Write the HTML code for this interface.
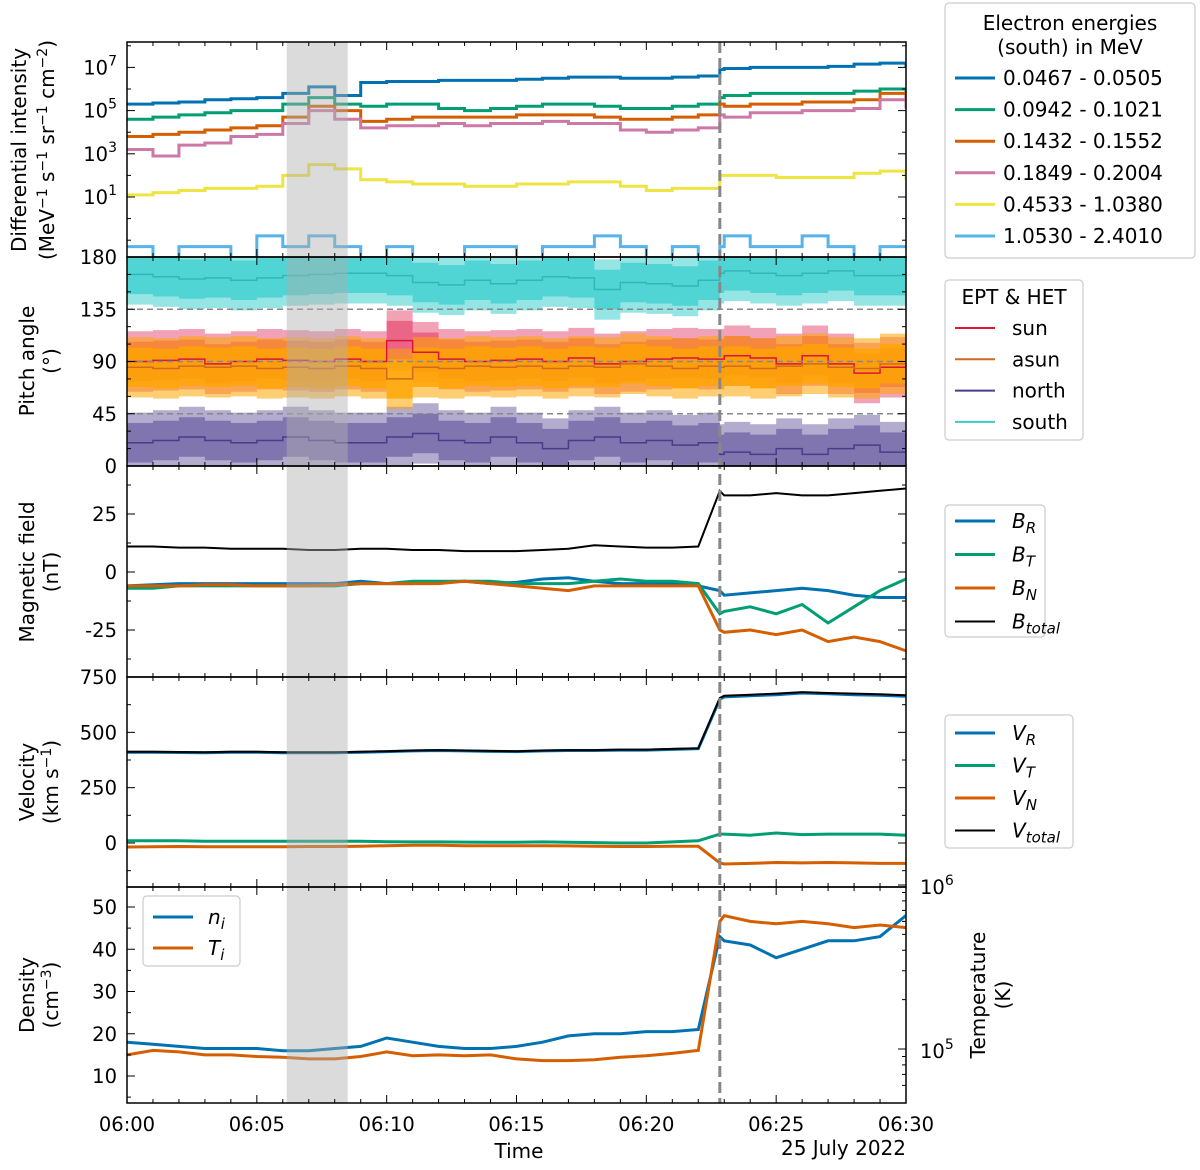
<!DOCTYPE html>
<html><head><meta charset="utf-8">
<style>
body{margin:0;background:#fff;}
svg{display:block;font-family:"DejaVu Sans","Liberation Sans",sans-serif;}
</style></head>
<body>
<svg id="c" width="1200" height="1170" viewBox="0 0 1200 1170" xmlns="http://www.w3.org/2000/svg"></svg>
<script>
// ---- data ----
const times = [0,1,2,3,4,5,6,7,8,9,10,11,12,13,14,15,16,17,18,19,20,21,22,22.83,23,24,25,26,27,28,29,30];
const energyLabels = ["0.0467 - 0.0505","0.0942 - 0.1021","0.1432 - 0.1552","0.1849 - 0.2004","0.4533 - 1.0380","1.0530 - 2.4010"];
const e1 = [5.3,5.35,5.4,5.5,5.55,5.6,5.8,6.1,5.7,6.3,6.35,6.35,6.4,6.4,6.4,6.45,6.5,6.55,6.55,6.5,6.5,6.55,6.6,6.9,6.95,7.0,7.0,7.0,7.05,7.15,7.2,7.0];
const e2 = [4.6,4.7,4.8,4.9,5.0,5.0,5.3,5.6,5.3,5.2,5.3,5.3,5.1,5.0,5.1,5.2,5.3,5.3,5.2,5.1,5.1,5.2,5.3,5.6,5.7,5.8,5.8,5.8,5.8,5.9,6.0,5.7];
const e3 = [3.8,3.9,4.0,4.1,4.2,4.3,4.7,5.2,5.0,4.5,4.6,4.7,4.7,4.7,4.7,4.8,4.8,4.8,4.7,4.6,4.6,4.7,4.8,5.3,5.2,5.3,5.3,5.4,5.4,5.5,5.8,5.5];
const e4 = [3.2,2.9,3.4,3.5,3.8,3.9,4.4,5.0,4.6,4.2,4.3,4.3,4.4,4.3,4.4,4.4,4.5,4.4,4.4,4.1,4.0,4.1,4.2,4.8,4.7,4.9,4.9,5.0,5.0,5.1,5.5,5.1];
const e5 = [1.1,1.2,1.3,1.4,1.4,1.5,2.0,2.5,2.3,1.8,1.7,1.6,1.6,1.5,1.5,1.6,1.6,1.7,1.7,1.5,1.3,1.4,1.4,2.0,2.0,2.0,1.9,1.9,1.9,2.1,2.2,1.8];
const e6 = [-1.3,-1.8,-1.3,-1.3,-1.8,-0.8,-1.3,-0.8,-1.3,-1.8,-1.3,-1.8,-1.8,-1.3,-1.3,-1.8,-1.3,-1.3,-0.8,-1.3,-1.8,-1.3,-1.8,-1.3,-0.8,-1.3,-1.3,-0.8,-1.3,-1.8,-1.3,-1.3];
const paSouth = [165,163,161,162,160,162,164,165,166,166,164,158,156,160,157,160,163,162,152,158,157,155,160,166,168,166,164,166,168,164,164,163];
const paSun   = [90,91,92,88,90,92,91,90,92,90,108,98,92,90,91,92,90,93,88,90,92,93,92,92,95,93,88,95,88,80,85,100];
const paAsun  = [85,84,86,85,86,84,85,84,86,84,75,85,84,86,85,86,84,86,85,88,86,84,86,85,86,84,86,88,85,84,88,85];
const paNorth = [20,22,25,22,20,22,25,22,20,20,25,28,22,20,25,20,15,22,25,20,22,18,20,10,12,10,15,10,15,18,12,30];
const bTot = [11,11,10.5,10.5,10,10,10,9.5,9.5,10,10,9.5,9.5,9,9,9,9.5,10,11.5,11,10.5,10.5,11,35,33,33,34,33,33,34,35,36];
const bR = [-6,-5.5,-5,-5,-5,-5,-5,-5,-5,-4,-5,-5,-4.5,-4,-5,-4.5,-3,-2.5,-4,-5,-5,-5,-6,-8,-10,-9,-8,-7,-8,-10,-11,-11];
const bT = [-7,-7,-6,-6,-6,-6,-6,-6,-6,-5,-5,-4,-4,-4,-4,-5,-5,-5,-4,-3,-4,-4,-5,-18,-17,-15,-18,-14,-22,-15,-8,-3];
const bN = [-6,-6,-6,-5.5,-5.5,-6,-6,-6,-5.5,-5,-5,-5,-5,-4,-5,-6,-7,-8,-6,-6,-6,-6,-6,-25,-26,-25,-27,-25,-30,-28,-30,-34];
const vTot = [412,412,411,410,412,412,410,410,410,412,415,418,420,418,416,415,418,420,420,422,422,425,428,655,665,670,675,682,678,675,672,668];
const vR = [410,410,409,408,410,410,408,408,408,410,413,416,418,416,414,413,416,418,418,420,420,423,426,650,660,665,670,678,674,670,668,663];
const vT = [10,10,10,8,8,8,8,8,8,8,6,5,5,4,3,3,5,3,2,0,0,5,10,40,40,35,45,38,40,40,40,35];
const vN = [-18,-17,-16,-17,-17,-17,-17,-16,-16,-15,-12,-10,-10,-12,-12,-12,-12,-13,-15,-16,-16,-15,-15,-90,-95,-92,-88,-90,-88,-90,-92,-92];
const nI = [18,17.5,17,16.5,16.5,16.5,16,16,16.5,17,19,18,17,16.5,16.5,17,18,19.5,20,20,20.5,20.5,21,43,42,41,38,40,42,42,43,48];
const tI = [92000,98000,96000,92000,92000,90000,89000,87000,87000,90000,96000,91000,92000,91000,92000,87000,85000,85000,86000,89000,91000,94000,98000,600000,650000,600000,580000,600000,580000,550000,570000,550000];
const xTickLabels = ["06:00","06:05","06:10","06:15","06:20","06:25","06:30"];
const xTickMinutes = [0,5,10,15,20,25,30];
const shadeStart = 6.15, shadeEnd = 8.5, shockTime = 22.83;

// ---- helpers ----
const NS="http://www.w3.org/2000/svg", S=document.getElementById('c');
function el(tag, attrs, parent){const e=document.createElementNS(NS,tag);for(const k in attrs)e.setAttribute(k,attrs[k]);(parent||S).appendChild(e);return e;}
const X0=127,X1=906;
const xs = t => X0 + t*(X1-X0)/30;
const P = [{t:42,b:257},{t:257,b:466},{t:466,b:677},{t:677,b:887},{t:887,b:1103}];
const y1 = v => 197 - (v-1)*21.6;
const y2 = v => 466 - v*(209/180);
const y3 = v => 572 - v*2.32;
const y4 = v => 843 - v*0.2213;
const y5 = v => 1076 - (v-10)*4.225;
const y5r = v => 1049 - (Math.log10(v)-5)*164;
function stepPath(vals, yf){let d='M'+xs(times[0])+','+yf(vals[0]);for(let i=1;i<times.length;i++){d+=' H'+xs(times[i])+' V'+yf(vals[i]);}return d;}
function linePath(vals, yf){return vals.map((v,i)=>(i?'L':'M')+xs(times[i]).toFixed(1)+','+yf(v).toFixed(1)).join(' ');}
function bandPath(vals, hw, yf){let up='',dn=[];for(let i=0;i<times.length;i++){const xa=xs(times[i]),xb=xs(i<times.length-1?times[i+1]:30);const hi=Math.min(180,vals[i]+hw),lo=Math.max(0,vals[i]-hw);up+=(i?'L':'M')+xa+','+yf(hi)+' L'+xb+','+yf(hi)+' ';dn.unshift('L'+xb+','+yf(lo)+' L'+xa+','+yf(lo));}return up+dn.join(' ')+' Z';}
function txt(x,y,s,attrs){const t=el('text',Object.assign({x:x,y:y,'font-size':19.5,fill:'#000'},attrs||{}));t.innerHTML=s;return t;}

const defs=el('defs',{});
P.forEach((p,i)=>{const cp=el('clipPath',{id:'cp'+i},defs);el('rect',{x:X0,y:p.t,width:X1-X0,height:p.b-p.t},cp);});

// ---- panel 1 ----
const g1=el('g',{'clip-path':'url(#cp0)'});


const eCols=['#0072B2','#009E73','#D55E00','#CC79A7','#F0E442','#56B4E9'];
[e1,e2,e3,e4,e5,e6].forEach((s,i)=>{const p=el('path',{d:stepPath(s,y1),fill:'none',stroke:eCols[i],'stroke-width':3},g1);

});

// ---- panel 2 ----
const g2=el('g',{'clip-path':'url(#cp1)'});


const paSets=[[paSouth,'#40cfcf','#30b8b8','south'],[paNorth,'#7468a8','#483D8B','north'],[paSun,'#e8567a','#DC143C','sun'],[paAsun,'#ffa500','#D2691E','asun']];
paSets.forEach(([v,fc,lc,nm])=>{
 const o=el('path',{d:bandPath(v,26,y2),fill:fc,opacity:0.55},g2);
 
 
 const inr=el('path',{d:bandPath(v,17,y2),fill:fc,opacity:0.8},g2);
 
 
});
paSets.forEach(([v,fc,lc,nm])=>{const l=el('path',{d:stepPath(v,y2),fill:'none',stroke:lc,'stroke-width':1.5},g2);
 
 });
[45,90,135].forEach(a=>el('line',{x1:X0,x2:X1,y1:y2(a),y2:y2(a),stroke:'#888','stroke-width':1.5,'stroke-dasharray':'6,4'},g2));

// ---- panel 3 ----
const g3=el('g',{'clip-path':'url(#cp2)'});


[[bTot,'#000',2,'b-total-line'],[bR,'#0072B2',3,'b-r-line'],[bT,'#009E73',3,'b-t-line'],[bN,'#D55E00',3,'b-n-line']].forEach(([v,c,w,n])=>{const l=el('path',{d:linePath(v,y3),fill:'none',stroke:c,'stroke-width':w},g3);
 
 });

// ---- panel 4 ----
const g4=el('g',{'clip-path':'url(#cp3)'});


[[vR,'#0072B2',3,'v-r-line'],[vT,'#009E73',3,'v-t-line'],[vN,'#D55E00',3,'v-n-line'],[vTot,'#000',2,'v-total-line']].forEach(([v,c,w,n])=>{const l=el('path',{d:linePath(v,y4),fill:'none',stroke:c,'stroke-width':w},g4);
 
 });

// ---- panel 5 ----
const g5=el('g',{'clip-path':'url(#cp4)'});


const ln=el('path',{d:linePath(nI,y5),fill:'none',stroke:'#0072B2','stroke-width':3},g5);


const lt=el('path',{d:linePath(tI,y5r),fill:'none',stroke:'#D55E00','stroke-width':3},g5);



const sh=el('rect',{x:xs(shadeStart),y:P[0].t,width:xs(shadeEnd)-xs(shadeStart),height:P[4].b-P[0].t,fill:'#b0b0b0',opacity:0.45});


const shock=el('line',{x1:xs(shockTime),x2:xs(shockTime),y1:P[0].t,y2:P[4].b,stroke:'#888','stroke-width':3,'stroke-dasharray':'11,5'});



P.forEach((p,i)=>{
 const r=el('rect',{x:X0,y:p.t,width:X1-X0,height:p.b-p.t,fill:'none',stroke:'#000','stroke-width':1.5});
 
 
 for(let m=0;m<=30;m++){const L=(m%5===0)?8:4;
  el('line',{x1:xs(m),x2:xs(m),y1:p.b,y2:p.b-L,stroke:'#000','stroke-width':1});
  el('line',{x1:xs(m),x2:xs(m),y1:p.t,y2:p.t+L,stroke:'#000','stroke-width':1});}
});
xTickMinutes.forEach((m,i)=>{const t=txt(xs(m),1131,xTickLabels[i],{'text-anchor':'middle'});
 
 });
const xt=txt(519,1158,'Time',{'text-anchor':'middle','font-size':20});


const dt=txt(906,1155,'25 July 2022',{'text-anchor':'end','font-size':20});



function ytick(y,label,L,side){
 const xa=side==='r'?X1:X0, dir=side==='r'?-1:1;
 el('line',{x1:xa,x2:xa+dir*L,y1:y,y2:y,stroke:'#000','stroke-width':1});
 if(label!==null){const t=txt(side==='r'?X1+12:X0-10,y+7,label,{'text-anchor':side==='r'?'start':'end'});
  
  }
}
[7,5,3,1].forEach(d=>{ytick(y1(d),'10<tspan dy="-9" font-size="14">'+d+'</tspan>',8,'l');ytick(y1(d),null,8,'r');});
[8,6,4,2,0,-1].forEach(d=>{ytick(y1(d),null,4,'l');ytick(y1(d),null,4,'r');});
[0,45,90,135,180].forEach(a=>{ytick(y2(a),String(a),8,'l');ytick(y2(a),null,8,'r');});
for(let a=15;a<180;a+=15){if(a%45){ytick(y2(a),null,4,'l');ytick(y2(a),null,4,'r');}}
[25,0,-25].forEach(v=>{ytick(y3(v),String(v),8,'l');ytick(y3(v),null,8,'r');});
[37.5,12.5,-12.5,-37.5].forEach(v=>{ytick(y3(v),null,4,'l');ytick(y3(v),null,4,'r');});
[750,500,250,0].forEach(v=>{ytick(y4(v),String(v),8,'l');ytick(y4(v),null,8,'r');});
[625,375,125,-125].forEach(v=>{ytick(y4(v),null,4,'l');ytick(y4(v),null,4,'r');});
[50,40,30,20,10].forEach(v=>ytick(y5(v),String(v),8,'l'));
[45,35,25,15,5].forEach(v=>ytick(y5(v),null,4,'l'));
ytick(y5r(1e6),null,8,'r');ytick(y5r(1e5),null,8,'r');
[6e4,7e4,8e4,9e4,2e5,3e5,4e5,5e5,6e5,7e5,8e5,9e5].forEach(v=>ytick(y5r(v),null,4,'r'));
[[1e6,6],[1e5,5]].forEach(([v,d])=>{const t=txt(X1+14,y5r(v)+9,'10<tspan dy="-9" font-size="14">'+d+'</tspan>',{});
 
 });

function ytitle(x,y,s,name){const t=txt(x,y,s,{'text-anchor':'middle','font-size':20,transform:'rotate(-90 '+x+' '+y+')'});
 
 }
ytitle(26,150,'Differential intensity','intensity-axis-title');
ytitle(54,150,'(MeV<tspan dy="-7" font-size="14">−1</tspan><tspan dy="7"> s</tspan><tspan dy="-7" font-size="14">−1</tspan><tspan dy="7"> sr</tspan><tspan dy="-7" font-size="14">−1</tspan><tspan dy="7"> cm</tspan><tspan dy="-7" font-size="14">−2</tspan><tspan dy="7">)</tspan>','intensity-axis-units');
ytitle(34,361,'Pitch angle','pitch-axis-title');
ytitle(58,361,'(°)','pitch-axis-units');
ytitle(34,572,'Magnetic field','b-axis-title');
ytitle(58,572,'(nT)','b-axis-units');
ytitle(34,782,'Velocity','v-axis-title');
ytitle(58,782,'(km s<tspan dy="-7" font-size="14">−1</tspan><tspan dy="7">)</tspan>','v-axis-units');
ytitle(34,995,'Density','density-axis-title');
ytitle(58,995,'(cm<tspan dy="-7" font-size="14">−3</tspan><tspan dy="7">)</tspan>','density-axis-units');
ytitle(985,995,'Temperature','temperature-axis-title');
ytitle(1010,995,'(K)','temperature-axis-units');

function legendBox(x,y,w,h,name){const r=el('rect',{x:x,y:y,width:w,height:h,rx:4,fill:'#fff',stroke:'#ccc','stroke-width':1.2});
 
 }
function legEntry(x,y,col,w,label,tx,name,italic){
 el('line',{x1:x,x2:x+40,y1:y,y2:y,stroke:col,'stroke-width':w});
 const t=txt(tx,y+7,label,italic?{'font-style':'italic','font-size':20}:{'font-size':20});
 
 }
legendBox(945,3,250,255,'energy-legend');
txt(1070,30,'Electron energies',{'text-anchor':'middle','font-size':20});
txt(1070,54,'(south) in MeV',{'text-anchor':'middle','font-size':20});
energyLabels.forEach((l,i)=>legEntry(955,78+i*31.6,eCols[i],3,l,1003,'energy-legend-entry',false));
legendBox(945,280,138,160,'pitch-legend');
txt(1014,304,'EPT &amp; HET',{'text-anchor':'middle','font-size':20});
[['sun','#DC143C'],['asun','#D2691E'],['north','#483D8B'],['south','#40c8c8']].forEach(([n,c],i)=>legEntry(955,328+i*31.3,c,2,n,1012,'pitch-legend-'+n,false));
legendBox(945,505,100,132,'b-legend');
[['R','#0072B2',3],['T','#009E73',3],['N','#D55E00',3],['total','#000',2]].forEach(([s,c,w],i)=>legEntry(955,521+i*33.5,c,w,'B<tspan dy="5" font-size="15">'+s+'</tspan>',1012,'b-legend-'+s,true));
legendBox(945,715,128,133,'v-legend');
[['R','#0072B2',3],['T','#009E73',3],['N','#D55E00',3],['total','#000',2]].forEach(([s,c,w],i)=>legEntry(955,733+i*32.5,c,w,'V<tspan dy="5" font-size="15">'+s+'</tspan>',1012,'v-legend-'+s,true));
legendBox(143,896,97,70,'density-legend');
legEntry(153,917,'#0072B2',3,'n<tspan dy="5" font-size="15">i</tspan>',208,'density-legend-n',true);
legEntry(153,948,'#D55E00',3,'T<tspan dy="5" font-size="15">i</tspan>',208,'density-legend-t',true);
</script>
</body></html>
